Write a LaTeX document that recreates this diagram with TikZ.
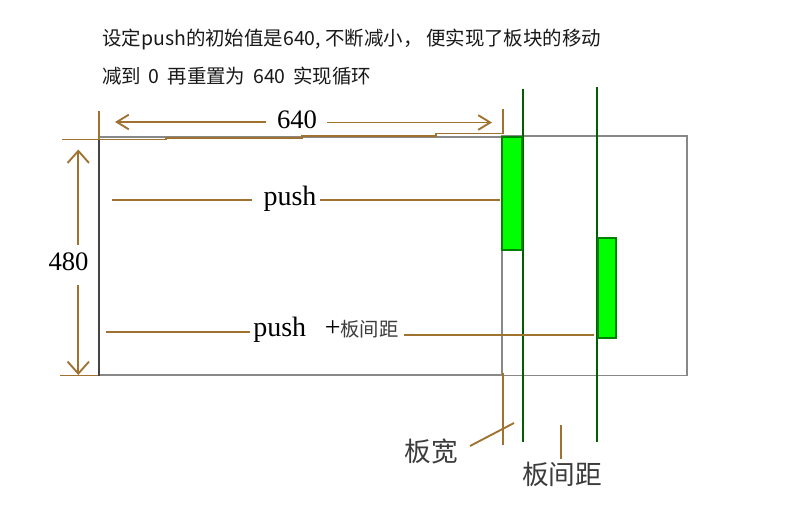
\documentclass[tikz,border=0pt]{standalone}
\usepackage{fontspec}
\setmainfont{Liberation Serif}
\newfontfamily\cjk{Noto Sans CJK SC}
\usetikzlibrary{arrows.meta}
\definecolor{dimbrown}{RGB}{160,114,48}
\definecolor{edgegray}{RGB}{136,136,136}
\definecolor{darkedge}{RGB}{68,68,68}
\definecolor{blockgreen}{RGB}{0,255,0}
\definecolor{blockedge}{RGB}{0,128,0}
\definecolor{guidegreen}{RGB}{0,95,0}
\definecolor{labelgray}{RGB}{60,60,60}
\begin{document}
\begin{tikzpicture}[x=0.75pt,y=-0.75pt,
  dim/.style={draw=dimbrown,line width=1.4pt},
  htip/.tip={Straight Barb[length=9pt,width=11pt,line width=1.4pt]},
  vtip/.tip={Straight Barb[length=9pt,width=16pt,line width=1.4pt]},
  thingray/.style={draw=edgegray,line width=1.3pt},
  grayband/.style={draw=edgegray,line width=2.2pt},
  leftedge/.style={draw=darkedge,line width=1.5pt},
  block/.style={fill=blockgreen,draw=blockedge,line width=1.5pt},
  guide/.style={draw=guidegreen,line width=1.5pt},
  hdr/.style={font=\cjk\fontsize{14.6}{16}\selectfont,text=black!90,inner sep=0pt,anchor=west},
  numlabel/.style={font=\fontsize{20}{22}\selectfont,inner sep=0pt},
  pushlabel/.style={font=\fontsize{21}{24}\selectfont,inner sep=0pt},
  cjklabel/.style={font=\cjk\fontsize{20}{22}\selectfont,text=labelgray,inner sep=0pt}]
\useasboundingbox (0,0) rectangle (789,517);
\fill[white] (0,0) rectangle (789,517);

% header text
\node[hdr] (h1) at (102,39.5) {设定push的初始值是640, 不断减小，\,便实现了板块的移动};
\node[hdr] (h2) at (102,76) {减到\hspace{0.4em}0\hspace{0.4em}再重置为\hspace{0.4em}640\hspace{0.4em}实现循环};

% areas
\draw[thingray] (502,136) rectangle (687,375.5);
\draw[grayband] (99,137) -- (502,137);
\draw[grayband] (99,375) -- (502,375);
\draw[leftedge] (99,137) -- (99,375.5);

% green guides and blocks
\coordinate (g1top) at (523,89);
\coordinate (g1bot) at (523,442);
\coordinate (g2top) at (597,87);
\coordinate (g2bot) at (597,442);
\draw[guide] (g1top) -- (g1bot);
\draw[guide] (g2top) -- (g2bot);
\draw[block] (502,136.5) rectangle (522,250);
\draw[block] (597.5,237.5) rectangle (615.5,338);

% top extension line
\coordinate (e1) at (62,139.5);
\coordinate (e2) at (166,139.5);
\coordinate (e3) at (166,138);
\coordinate (e4) at (302,138);
\coordinate (e5) at (302,136);
\coordinate (e6) at (436,136);
\coordinate (e7) at (436,133.5);
\coordinate (e8) at (503,133.5);
\draw[dim] (e1) -- (e2) -- (e3) -- (e4) -- (e5) -- (e6) -- (e7) -- (e8);

% vertical ticks
\coordinate (tl1) at (98.7,111);
\coordinate (tl2) at (98.7,140);
\draw[dim] (tl1) -- (tl2);
\coordinate (tr1) at (503,109);
\coordinate (tr2) at (503,133.5);
\draw[dim] (tr1) -- (tr2);
\coordinate (tr3) at (503,373);
\coordinate (tr4) at (503,445);
\draw[dim] (tr3) -- (tr4);
\coordinate (bt1) at (60,375.5);
\coordinate (bt2) at (98,375.5);
\draw[dim] (bt1) -- (bt2);

% 640 dimension
\node[numlabel,anchor=base] (t640) at (297,128.3) {640};
\coordinate (a640l) at (266,122);
\coordinate (a640lt) at (115,122);
\coordinate (a640r) at (327,122.5);
\coordinate (a640rt) at (492,122.5);
\draw[dim,-{htip}] (a640l) -- (a640lt);
\draw[dim,-{htip}] (a640r) -- (a640rt);

% 480 dimension
\node[numlabel,anchor=base] (t480) at (68.5,270.5) {480};
\coordinate (a480t) at (78.3,245);
\coordinate (a480tt) at (78.3,149.5);
\coordinate (a480b) at (78.3,285);
\coordinate (a480bt) at (78.3,375);
\draw[dim,-{vtip}] (a480t) -- (a480tt);
\draw[dim,-{vtip}] (a480b) -- (a480bt);

% push
\node[pushlabel,anchor=base] (push1) at (290,205.5) {push};
\coordinate (p1a) at (112,199.7);
\coordinate (p1b) at (252,199.7);
\coordinate (p1c) at (320,199.7);
\coordinate (p1d) at (500,199.7);
\draw[dim] (p1a) -- (p1b);
\draw[dim] (p1c) -- (p1d);

% push + gap
\node[pushlabel,anchor=base west] (push2) at (253,336) {push\hspace{14pt}+{\cjk\fontsize{14.5}{16}\selectfont\color{labelgray}板间距}};
\coordinate (p2a) at (106,332);
\coordinate (p2b) at (250,332);
\coordinate (p2c) at (404,335);
\coordinate (p2d) at (594,335);
\draw[dim] (p2a) -- (p2b);
\draw[dim] (p2c) -- (p2d);

% bottom labels
\node[cjklabel] (bk) at (431.5,451.5) {板宽};
\coordinate (bk1) at (470,446);
\coordinate (bk2) at (514,423);
\draw[dim] (bk1) -- (bk2);
\node[cjklabel] (bj) at (562,474) {板间距};
\coordinate (bj1) at (561,425);
\coordinate (bj2) at (561,459);
\draw[dim] (bj1) -- (bj2);
\end{tikzpicture}
\end{document}
